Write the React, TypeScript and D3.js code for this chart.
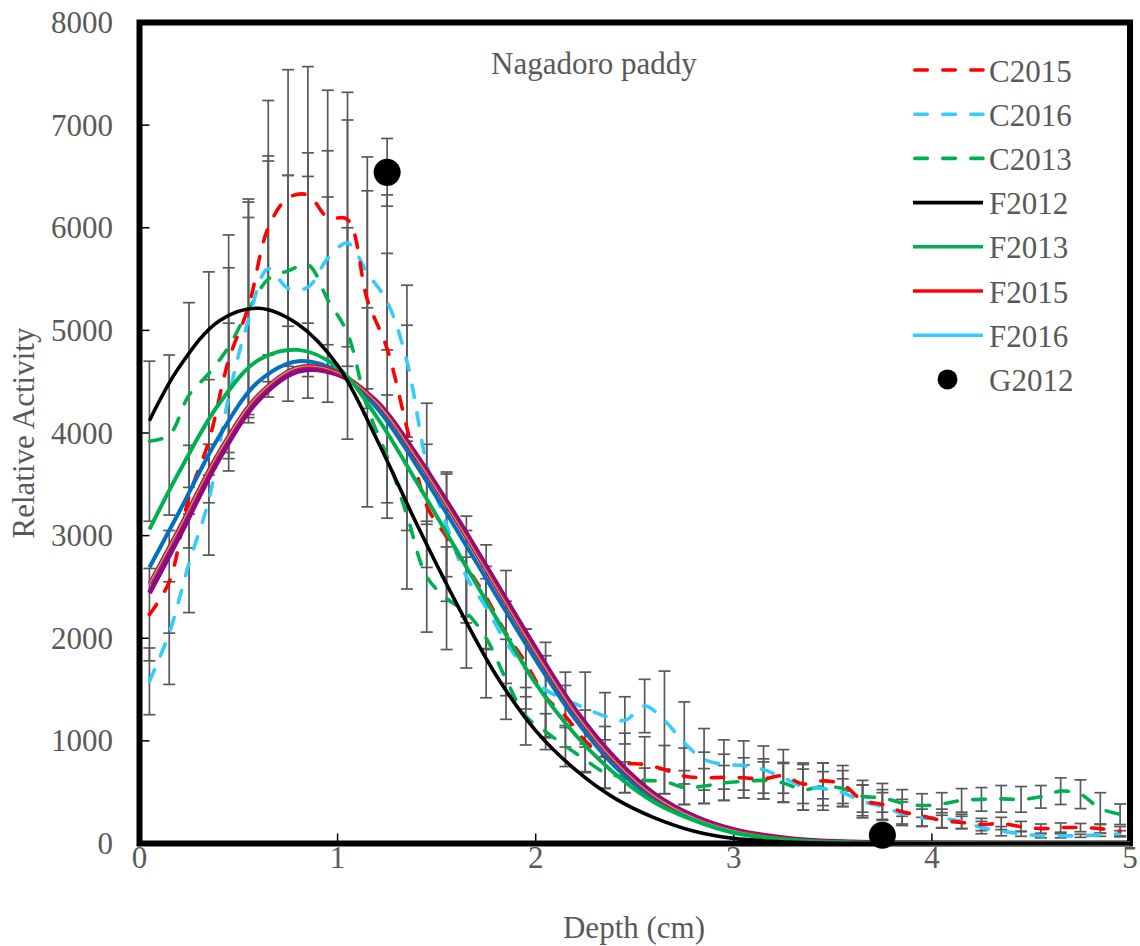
import React from 'react';
import * as d3 from 'd3';

// ---------- data ----------
const depths = [0.05, 0.15, 0.25, 0.35, 0.45, 0.55, 0.65, 0.75, 0.85, 0.95,
  1.05, 1.15, 1.25, 1.35, 1.45, 1.55, 1.65, 1.75, 1.85, 1.95,
  2.05, 2.15, 2.25, 2.35, 2.45, 2.55, 2.65, 2.75, 2.85, 2.95,
  3.05, 3.15, 3.25, 3.35, 3.45, 3.55, 3.65, 3.75, 3.85, 3.95,
  4.05, 4.15, 4.25, 4.35, 4.45, 4.55, 4.65, 4.75, 4.85, 4.95];

const c2015 = [2230, 2550, 3380, 3920, 4710, 5230, 6000, 6290, 6320, 6100,
  6080, 5300, 4820, 4050, 3290, 2990, 2700, 2400, 2050, 1760,
  1430, 1240, 1000, 840, 785, 770, 720, 655, 640, 645,
  640, 630, 660, 580, 610, 575, 420, 380, 310, 270,
  225, 205, 185, 195, 165, 145, 155, 155, 145, 120];
const c2015Err = [450, 500, 500, 600, 900, 1050, 1240, 1250, 1250, 1240,
  1240, 1060, 1500, 1000, 600, 630, 490, 510, 610, 330,
  400, 300, 300, 300, 290, 270, 235, 275, 250, 225,
  195, 195, 255, 190, 175, 185, 150, 145, 120, 100,
  75, 60, 60, 60, 50, 45, 45, 40, 45, 45];

const c2016 = [1580, 2050, 2730, 3350, 4350, 5100, 5600, 5410, 5420, 5700,
  5850, 5560, 5280, 4700, 3700, 3100, 2600, 2300, 1960, 1700,
  1500, 1400, 1320, 1240, 1200, 1340, 1200, 980, 820, 770,
  760, 720, 640, 555, 535, 495, 410, 360, 290, 250,
  245, 215, 155, 120, 95, 75, 75, 75, 85, 95];
const c2016Err = [325, 500, 480, 540, 720, 1000, 1100, 1100, 1080, 1050,
  1200, 1130, 470, 740, 590, 500, 450, 400, 400, 390,
  460, 270, 350, 230, 230, 260, 480, 400, 300, 240,
  240, 230, 150, 230, 165, 135, 160, 135, 115, 85,
  90, 70, 60, 45, 25, 20, 20, 15, 15, 30];

const c2013 = [3920, 3980, 4370, 4580, 4840, 5200, 5500, 5580, 5640, 5300,
  4970, 4250, 3770, 3200, 2600, 2390, 2250, 2000, 1600, 1240,
  1090, 950, 815, 690, 645, 615, 605, 545, 560, 590,
  605, 615, 590, 525, 555, 535, 460, 445, 395, 370,
  385, 420, 430, 435, 430, 455, 510, 480, 340, 285];
const c2013Err = [780, 780, 900, 990, 1090, 1050, 1150, 930, 1090, 1000,
  1030, 970, 600, 720, 540, 500, 540, 580, 390, 280,
  175, 200, 125, 155, 150, 120, 120, 165, 170, 170,
  160, 180, 190, 200, 230, 175, 155, 140, 130, 115,
  110, 115, 115, 130, 125, 110, 130, 140, 155, 100];

const fitDepths = [0.05, 0.2, 0.4, 0.6, 0.8, 1.0, 1.2, 1.4, 1.6, 1.8, 2.0,
  2.2, 2.4, 2.6, 2.8, 3.0, 3.3, 3.6, 4.0, 4.5, 5.0];
const f2012 = [4120, 4640, 5090, 5215, 5060, 4660, 3930, 3110, 2340, 1640, 1100,
  720, 440, 250, 120, 50, 12, 2, 0, 0, 0];
const f2013 = [3060, 3620, 4280, 4710, 4810, 4640, 4150, 3520, 2860, 2200, 1560,
  1060, 680, 400, 225, 105, 35, 10, 2, 0, 0];
const f2015 = [2530, 3070, 3810, 4370, 4640, 4590, 4290, 3750, 3140, 2500, 1860,
  1270, 800, 460, 250, 125, 40, 12, 2, 0, 0];
const f2016 = [2530, 3070, 3810, 4370, 4640, 4590, 4290, 3750, 3140, 2500, 1860,
  1270, 800, 460, 250, 125, 40, 12, 2, 0, 0];
const fitBlue = [2690, 3230, 3960, 4500, 4700, 4600, 4240, 3680, 3060, 2420, 1790,
  1210, 750, 430, 230, 110, 35, 10, 2, 0, 0];
const fitPurple = [2440, 2990, 3740, 4320, 4600, 4570, 4300, 3780, 3180, 2540, 1900,
  1300, 830, 480, 265, 135, 45, 15, 3, 0, 0];

const gDepths = [1.25, 3.75];
const g2012 = [6540, 80];
const g2012Err = [330, 0];

const xTicks = [0, 1, 2, 3, 4, 5];
const yTicks = [0, 1000, 2000, 3000, 4000, 5000, 6000, 7000, 8000];

const legendItems = [
  { name: 'C2015', color: '#FF0000', type: 'dash' },
  { name: 'C2016', color: '#33CCFF', type: 'dash' },
  { name: 'C2013', color: '#00B050', type: 'dash' },
  { name: 'F2012', color: '#000000', type: 'line' },
  { name: 'F2013', color: '#00B050', type: 'line' },
  { name: 'F2015', color: '#FF0000', type: 'line' },
  { name: 'F2016', color: '#33CCFF', type: 'line' },
  { name: 'G2012', color: '#000000', type: 'dot' },
];

// ---------- layout ----------
const W = 1140;
const H = 946;
const X0 = 139.5, X1 = 1130, Y0 = 843.5, Y1 = 22.5;
const FONT = '"Liberation Serif", "Times New Roman", serif';
const TXT = '#595959';
const DASH = '12.5 15.5';

export default function App() {
  const x = d3.scaleLinear().domain([0, 5]).range([X0, X1]);
  const y = d3.scaleLinear().domain([0, 8000]).range([Y0, Y1]);

  const smooth = d3.line<[number, number]>()
    .x(d => x(d[0])).y(d => y(d[1]))
    .curve(d3.curveCatmullRom.alpha(0.5));

  const pts = (xs: number[], ys: number[]) => xs.map((v, i) => [v, ys[i]] as [number, number]);

  const errSeries = [
    { v: c2015, e: c2015Err },
    { v: c2016, e: c2016Err },
    { v: c2013, e: c2013Err },
  ];

  const capW = 6;

  return (
    <div style={{ position: 'absolute', left: 0, top: 0 }}>
      <svg width={W} height={H} style={{ display: 'block', background: '#fff' }} fontFamily={FONT}>
        <rect x={0} y={0} width={W} height={H} fill="#fff" />
        {/* plot border */}
        <rect x={X0} y={Y1} width={X1 - X0} height={Y0 - Y1} fill="none" stroke="#000" strokeWidth={6} />
        {/* ticks */}
        {yTicks.map(t => (
          <g key={'y' + t}>
            <line x1={X0} x2={X0 + 10} y1={y(t)} y2={y(t)} stroke="#000" strokeWidth={1.5} />
            <text x={113} y={y(t) + 10.5} textAnchor="end" fontSize={31} fill={TXT}>{t}</text>
          </g>
        ))}
        {xTicks.map(t => (
          <g key={'x' + t}>
            <line x1={x(t)} x2={x(t)} y1={Y0} y2={Y0 - 10} stroke="#000" strokeWidth={1.5} />
            <text x={x(t)} y={868} textAnchor="middle" fontSize={31} fill={TXT}>{t}</text>
          </g>
        ))}
        {/* axis titles */}
        <text x={634} y={938} textAnchor="middle" fontSize={31} fill={TXT}>Depth (cm)</text>
        <text transform="translate(34,433) rotate(-90)" textAnchor="middle" fontSize={31} fill={TXT}>Relative Activity</text>
        <text x={491} y={73.5} fontSize={31} fill={TXT}>Nagadoro paddy</text>

        {/* error bars */}
        {errSeries.map((s, si) => (
          <g key={'eb' + si} stroke="#595959" strokeWidth={1.7}>
            {depths.map((d, i) => {
              const cx = x(d);
              const top = y(s.v[i] + s.e[i]);
              const bot = y(s.v[i] - s.e[i]);
              return (
                <g key={i}>
                  <line x1={cx} x2={cx} y1={top} y2={bot} />
                  <line x1={cx - capW} x2={cx + capW} y1={top} y2={top} />
                  <line x1={cx - capW} x2={cx + capW} y1={bot} y2={bot} />
                </g>
              );
            })}
          </g>
        ))}

        {/* measured (dashed) curves */}
        <path d={smooth(pts(depths, c2013)) || ''} fill="none" stroke="#00B050" strokeWidth={3.6} strokeDasharray={DASH} strokeLinecap="round" />
        <path d={smooth(pts(depths, c2016)) || ''} fill="none" stroke="#33CCFF" strokeWidth={3.6} strokeDasharray={DASH} strokeLinecap="round" />
        <path d={smooth(pts(depths, c2015)) || ''} fill="none" stroke="#FF0000" strokeWidth={3.6} strokeDasharray={DASH} strokeLinecap="round" />

        {/* fitted curves */}
        <path d={smooth(pts(fitDepths, fitPurple)) || ''} fill="none" stroke="#8B0A8B" strokeWidth={5} />
        <path d={smooth(pts(fitDepths, fitBlue)) || ''} fill="none" stroke="#0070C0" strokeWidth={4} />
        <path d={smooth(pts(fitDepths, f2015)) || ''} fill="none" stroke="#FF0000" strokeWidth={4} />
        <path d={smooth(pts(fitDepths, f2016)) || ''} fill="none" stroke="#33CCFF" strokeWidth={1.2} />
        <path d={smooth(pts(fitDepths, f2013)) || ''} fill="none" stroke="#00B050" strokeWidth={4} />
        <path d={smooth(pts(fitDepths, f2012)) || ''} fill="none" stroke="#000000" strokeWidth={3.6} />

        {/* G2012 */}
        <g stroke="#595959" strokeWidth={1.7}>
          {gDepths.map((d, i) => g2012Err[i] > 0 ? (
            <g key={i}>
              <line x1={x(d)} x2={x(d)} y1={y(g2012[i] + g2012Err[i])} y2={y(g2012[i] - g2012Err[i])} />
              <line x1={x(d) - capW} x2={x(d) + capW} y1={y(g2012[i] + g2012Err[i])} y2={y(g2012[i] + g2012Err[i])} />
              <line x1={x(d) - capW} x2={x(d) + capW} y1={y(g2012[i] - g2012Err[i])} y2={y(g2012[i] - g2012Err[i])} />
            </g>
          ) : null)}
        </g>
        {gDepths.map((d, i) => (
          <circle key={'g' + i} cx={x(d)} cy={y(g2012[i])} r={13.5} fill="#000" />
        ))}

        {/* legend */}
        {legendItems.map((it, i) => {
          const ly = 70 + i * 44.2;
          return (
            <g key={it.name}>
              {it.type === 'dot' ? (
                <circle cx={947.5} cy={ly} r={10} fill={it.color} />
              ) : (
                <line x1={it.type === 'dash' ? 914.8 : 913} x2={983} y1={ly} y2={ly} stroke={it.color}
                  strokeWidth={3.6} strokeDasharray={it.type === 'dash' ? DASH : undefined}
                  strokeLinecap={it.type === 'dash' ? 'round' : 'butt'} />
              )}
              <text x={989} y={ly + 11.5} fontSize={31} fill={TXT}>{it.name}</text>
            </g>
          );
        })}
      </svg>
    </div>
  );
}
